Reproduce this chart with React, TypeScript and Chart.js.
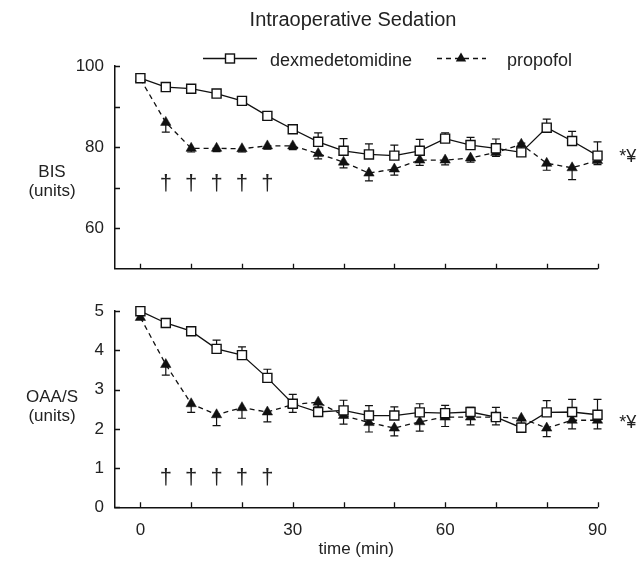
import React, { useEffect, useRef } from 'react';
import { Chart, registerables } from 'chart.js';

Chart.register(...registerables);

// ---------- data ----------
const chartTitle = 'Intraoperative Sedation';
const seriesNames = ['dexmedetomidine', 'propofol'];
const times = [0, 5, 10, 15, 20, 25, 30, 35, 40, 45, 50, 55, 60, 65, 70, 75, 80, 85, 90];

const dexBis = [97.0, 94.8, 94.4, 93.2, 91.4, 87.7, 84.4, 81.3, 79.1, 78.2, 77.9, 79.1, 82.1, 80.5, 79.7, 78.7, 84.8, 81.5, 77.9];
const dexBisErr = [0.5, 0.5, 0.5, 0.6, 0.7, 0.8, 0.9, 2.2, 3.0, 2.6, 2.6, 2.8, 1.4, 1.9, 2.3, 2.3, 2.1, 2.4, 3.4];
const propBis = [96.8, 86.1, 79.7, 79.7, 79.6, 80.3, 80.3, 78.4, 76.3, 73.6, 74.6, 76.8, 76.8, 77.3, 78.7, 80.7, 76.0, 74.9, 76.7];
const propBisErr = [0.5, 2.4, 0.9, 0.8, 0.8, 0.8, 0.9, 1.3, 1.4, 1.9, 1.5, 1.3, 1.2, 1.0, 1.0, 1.0, 1.7, 2.9, 1.0];

const dexOaa = [5.0, 4.70, 4.49, 4.04, 3.88, 3.30, 2.64, 2.43, 2.47, 2.34, 2.34, 2.42, 2.40, 2.43, 2.30, 2.03, 2.42, 2.43, 2.36];
const dexOaaErr = [0.04, 0.04, 0.05, 0.22, 0.21, 0.22, 0.24, 0.2, 0.26, 0.25, 0.22, 0.22, 0.2, 0.12, 0.25, 0.08, 0.3, 0.32, 0.39];
const propOaa = [4.84, 3.64, 2.64, 2.36, 2.54, 2.43, 2.62, 2.68, 2.34, 2.16, 2.02, 2.18, 2.30, 2.30, 2.30, 2.27, 2.02, 2.22, 2.22];
const propOaaErr = [0.05, 0.27, 0.22, 0.28, 0.27, 0.25, 0.2, 0.12, 0.22, 0.24, 0.2, 0.24, 0.24, 0.2, 0.2, 0.12, 0.22, 0.22, 0.22];

const xTickValues = [0, 10, 20, 30, 40, 50, 60, 70, 80, 90];
const xLabeled = [0, 30, 60, 90];
const bisTickValues = [60, 70, 80, 90, 100];
const bisLabeled = [60, 80, 100];
const oaaTickValues = [0, 1, 2, 3, 4, 5];
const oaaLabeled = [0, 1, 2, 3, 4, 5];

const daggerTimes = [5, 10, 15, 20, 25];
const bisDaggerLevel = 71;
const oaaDaggerLevel = 0.74;
const sigMark = '*¥';
const sigX = 94.3;
const bisSigLevel = 77.6;
const oaaSigLevel = 2.15;

const bisLabel = ['BIS', '(units)'];
const oaaLabel = ['OAA/S', '(units)'];
const xTitle = 'time (min)';

// ---------- styles ----------
const FONT = '"Liberation Sans", Arial, Helvetica, sans-serif';
const INK = '#111';
const TEXT = '#222';
const TOP_H = 290;
const BOT_H = 272;
const W = 641;

function drawSquare(ctx: CanvasRenderingContext2D, x: number, y: number) {
  ctx.save();
  ctx.fillStyle = '#fff';
  ctx.strokeStyle = INK;
  ctx.lineWidth = 1.4;
  ctx.setLineDash([]);
  ctx.fillRect(x - 4.5, y - 4.5, 9, 9);
  ctx.strokeRect(x - 4.5, y - 4.5, 9, 9);
  ctx.restore();
}
function drawTriangle(ctx: CanvasRenderingContext2D, x: number, y: number) {
  const r = 6;
  ctx.save();
  ctx.fillStyle = INK;
  ctx.beginPath();
  ctx.moveTo(x, y - r);
  ctx.lineTo(x + r * 0.866, y + r / 2);
  ctx.lineTo(x - r * 0.866, y + r / 2);
  ctx.closePath();
  ctx.fill();
  ctx.restore();
}

const errorBarPlugin = {
  id: 'errorBars',
  beforeDatasetsDraw(chart: any) {
    const ctx = chart.ctx;
    const ys = chart.scales.y;
    chart.data.datasets.forEach((ds: any, i: number) => {
      const meta = chart.getDatasetMeta(i);
      ctx.save();
      ctx.strokeStyle = INK;
      ctx.lineWidth = 1.2;
      ctx.setLineDash([]);
      meta.data.forEach((pt: any, j: number) => {
        const v = ds.data[j].y;
        const e = ds.errors[j];
        const yEnd = ys.getPixelForValue(v + ds.errDir * e);
        ctx.beginPath();
        ctx.moveTo(pt.x, pt.y);
        ctx.lineTo(pt.x, yEnd);
        ctx.moveTo(pt.x - 4, yEnd);
        ctx.lineTo(pt.x + 4, yEnd);
        ctx.stroke();
      });
      ctx.restore();
    });
  },
};

function makeTickPlugin(xVals: number[], yVals: number[]) {
  return {
    id: 'innerTicks',
    afterDraw(chart: any) {
      const ctx = chart.ctx;
      const xs = chart.scales.x;
      const ys = chart.scales.y;
      const { left, bottom } = chart.chartArea;
      ctx.save();
      ctx.strokeStyle = INK;
      ctx.lineWidth = 1.3;
      ctx.beginPath();
      xVals.forEach((v) => {
        const px = Math.round(xs.getPixelForValue(v)) + 0.5;
        ctx.moveTo(px, bottom);
        ctx.lineTo(px, bottom - 5);
      });
      yVals.forEach((v) => {
        const py = Math.round(ys.getPixelForValue(v)) + 0.5;
        ctx.moveTo(left, py);
        ctx.lineTo(left + 5, py);
      });
      ctx.stroke();
      ctx.restore();
    },
  };
}

function makeAnnotPlugin(daggerLevel: number, sigLevel: number, sideLabel: string[], labelBaseline: number, extra?: (ctx: CanvasRenderingContext2D, chart: any) => void) {
  return {
    id: 'annotations',
    afterDraw(chart: any) {
      const ctx = chart.ctx as CanvasRenderingContext2D;
      const xs = chart.scales.x;
      const ys = chart.scales.y;
      ctx.save();
      ctx.fillStyle = TEXT;
      ctx.textAlign = 'center';
      ctx.textBaseline = 'middle';
      ctx.font = `22px ${FONT}`;
      daggerTimes.forEach((t) => {
        ctx.fillText('†', xs.getPixelForValue(t), ys.getPixelForValue(daggerLevel));
      });
      ctx.font = `18px ${FONT}`;
      ctx.textAlign = 'left';
      ctx.fillText(sigMark, xs.getPixelForValue(sigX), ys.getPixelForValue(sigLevel));
      ctx.font = `17px ${FONT}`;
      ctx.textAlign = 'center';
      ctx.textBaseline = 'alphabetic';
      ctx.fillText(sideLabel[0], 52, labelBaseline);
      ctx.fillText(sideLabel[1], 52, labelBaseline + 19);
      if (extra) extra(ctx, chart);
      ctx.restore();
    },
  };
}

function baseDataset(idx: number, values: number[], errors: number[]) {
  const isDex = idx === 0;
  return {
    label: seriesNames[idx],
    data: times.map((t, i) => ({ x: t, y: values[i] })),
    errors,
    errDir: isDex ? 1 : -1,
    clip: false,
    borderColor: INK,
    borderWidth: 1.3,
    borderDash: isDex ? [] : [5, 4],
    pointStyle: isDex ? 'rect' : 'triangle',
    pointRadius: isDex ? 6.4 : 6,
    pointBackgroundColor: isDex ? '#fff' : INK,
    pointBorderColor: INK,
    pointBorderWidth: isDex ? 1.4 : 0.5,
    tension: 0,
    fill: false,
  };
}

function makeConfig(opts: {
  dex: number[]; dexErr: number[]; prop: number[]; propErr: number[];
  yMin: number; yMax: number; yTicks: number[]; yLabeled: number[];
  showX: boolean; padTop: number; xHeight: number; plugins: any[];
}) {
  return {
    type: 'line',
    data: {
      datasets: [
        baseDataset(0, opts.dex, opts.dexErr),
        baseDataset(1, opts.prop, opts.propErr),
      ],
    },
    options: {
      responsive: false,
      maintainAspectRatio: false,
      animation: false,
      events: [],
      layout: { padding: { left: 0, right: 43.5, top: opts.padTop, bottom: 0 } },
      plugins: { legend: { display: false }, tooltip: { enabled: false }, title: { display: false } },
      scales: {
        x: {
          type: 'linear',
          min: -5,
          max: 90,
          afterBuildTicks: (s: any) => { s.ticks = xTickValues.map((v) => ({ value: v })); },
          afterFit: (s: any) => { s.height = opts.xHeight; },
          grid: { display: false, drawTicks: false },
          border: { display: true, color: INK, width: 1.5 },
          ticks: {
            display: opts.showX,
            autoSkip: false,
            maxRotation: 0,
            padding: 13,
            color: TEXT,
            font: { family: FONT, size: 17 },
            callback: (v: any) => (xLabeled.includes(v) ? String(v) : ''),
          },
          title: {
            display: opts.showX,
            text: xTitle,
            color: TEXT,
            font: { family: FONT, size: 17 },
            padding: { top: 2, bottom: 2 },
          },
        },
        y: {
          type: 'linear',
          min: opts.yMin,
          max: opts.yMax,
          afterBuildTicks: (s: any) => { s.ticks = opts.yTicks.map((v) => ({ value: v })); },
          afterFit: (s: any) => { s.width = 115; },
          grid: { display: false, drawTicks: false },
          border: { display: true, color: INK, width: 1.5 },
          ticks: {
            autoSkip: false,
            padding: 11,
            color: TEXT,
            font: { family: FONT, size: 17 },
            callback: (v: any) => (opts.yLabeled.includes(v) ? String(v) : ''),
          },
        },
      },
    },
    plugins: opts.plugins,
  };
}

const legendAndTitle = (ctx: CanvasRenderingContext2D) => {
  ctx.fillStyle = TEXT;
  ctx.textAlign = 'center';
  ctx.textBaseline = 'alphabetic';
  ctx.font = `20px ${FONT}`;
  ctx.fillText(chartTitle, 353, 26);
  // legend
  const ly = 58.5;
  ctx.strokeStyle = INK;
  ctx.lineWidth = 1.3;
  ctx.setLineDash([]);
  ctx.beginPath();
  ctx.moveTo(203, ly);
  ctx.lineTo(257, ly);
  ctx.stroke();
  drawSquare(ctx, 230, ly);
  ctx.setLineDash([5, 4]);
  ctx.beginPath();
  ctx.moveTo(437, ly);
  ctx.lineTo(486, ly);
  ctx.stroke();
  ctx.setLineDash([]);
  drawTriangle(ctx, 461, ly);
  ctx.font = `18px ${FONT}`;
  ctx.textAlign = 'left';
  ctx.fillStyle = TEXT;
  ctx.fillText(seriesNames[0], 270, 65.5);
  ctx.fillText(seriesNames[1], 507, 65.5);
};

export default function App() {
  const topRef = useRef<HTMLCanvasElement>(null);
  const botRef = useRef<HTMLCanvasElement>(null);

  useEffect(() => {
    const top = new Chart(
      topRef.current as HTMLCanvasElement,
      makeConfig({
        dex: dexBis, dexErr: dexBisErr, prop: propBis, propErr: propBisErr,
        yMin: 50, yMax: 100, yTicks: bisTickValues, yLabeled: bisLabeled,
        showX: false, padTop: 66, xHeight: 15.7,
        plugins: [
          errorBarPlugin,
          makeTickPlugin(xTickValues, bisTickValues),
          makeAnnotPlugin(bisDaggerLevel, bisSigLevel, bisLabel, 177, legendAndTitle),
        ],
      }) as any,
    );
    const bot = new Chart(
      botRef.current as HTMLCanvasElement,
      makeConfig({
        dex: dexOaa, dexErr: dexOaaErr, prop: propOaa, propErr: propOaaErr,
        yMin: 0, yMax: 5, yTicks: oaaTickValues, yLabeled: oaaLabeled,
        showX: true, padTop: 9.3, xHeight: 54.7,
        plugins: [
          errorBarPlugin,
          makeTickPlugin(xTickValues, oaaTickValues),
          makeAnnotPlugin(oaaDaggerLevel, oaaSigLevel, oaaLabel, 402 - TOP_H),
        ],
      }) as any,
    );
    return () => {
      top.destroy();
      bot.destroy();
    };
  }, []);

  return (
    <div style={{ position: 'absolute', left: 0, top: 0, width: W, height: TOP_H + BOT_H, background: '#fff' }}>
      <canvas ref={topRef} width={W} height={TOP_H} style={{ position: 'absolute', left: 0, top: 0, width: W, height: TOP_H }} />
      <canvas ref={botRef} width={W} height={BOT_H} style={{ position: 'absolute', left: 0, top: TOP_H, width: W, height: BOT_H }} />
    </div>
  );
}
